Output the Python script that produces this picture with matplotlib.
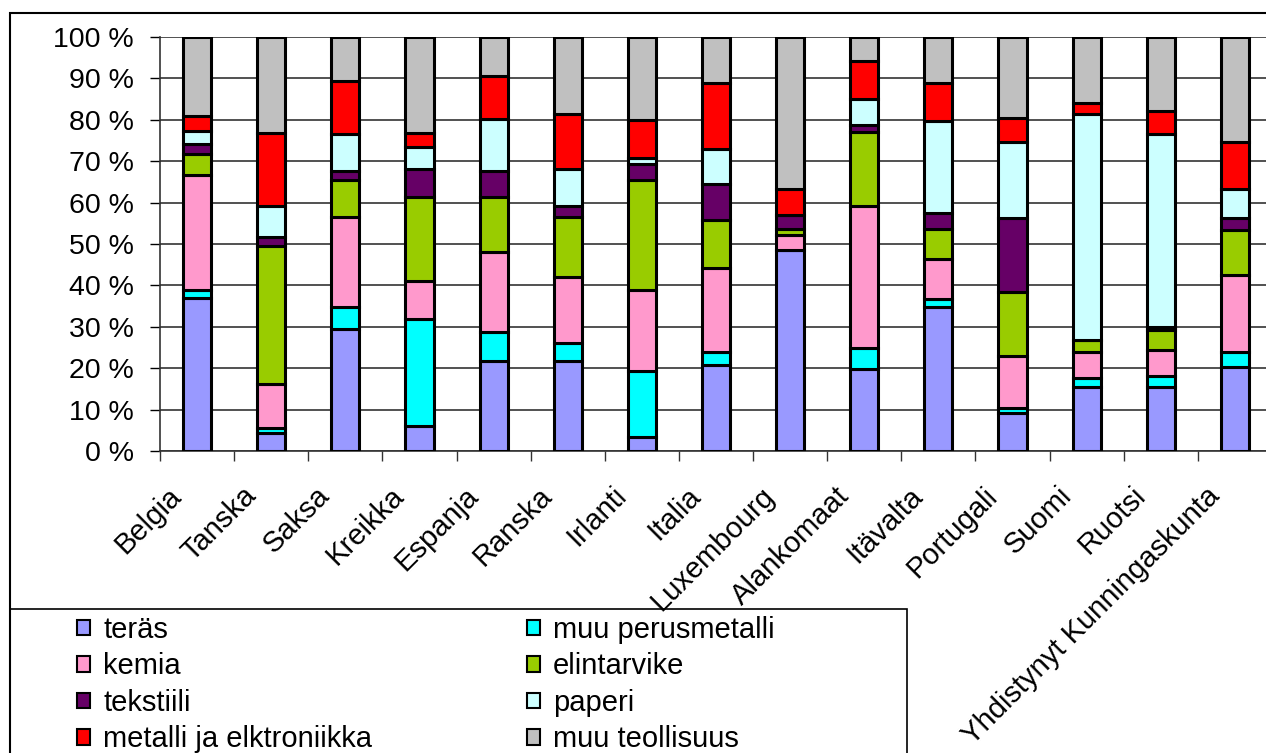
import matplotlib.pyplot as plt
import numpy as np
from matplotlib.patches import Rectangle
from matplotlib.transforms import ScaledTranslation

plt.rcParams['font.family'] = ['Liberation Sans', 'DejaVu Sans']

countries = ['Belgia', 'Tanska', 'Saksa', 'Kreikka', 'Espanja', 'Ranska', 'Irlanti',
             'Italia', 'Luxembourg', 'Alankomaat', 'Itävalta', 'Portugali', 'Suomi',
             'Ruotsi', 'Yhdistynyt Kunningaskunta']

# shares in percent
teras    = [36.8, 4.4, 29.4, 6.0, 21.8, 21.8, 3.3, 20.8, 48.6, 19.7, 34.7, 9.1, 15.5, 15.5, 20.4]
muuper   = [2.1, 1.1, 5.3, 26.0, 7.0, 4.4, 16.0, 3.2, 0.0, 5.3, 2.1, 1.2, 2.2, 2.7, 3.6]
kemia    = [27.7, 10.6, 21.9, 9.1, 19.2, 15.9, 19.6, 20.3, 3.6, 34.2, 9.5, 12.6, 6.3, 6.2, 18.5]
elint    = [4.9, 33.5, 8.9, 20.2, 13.3, 14.4, 26.6, 11.5, 1.5, 17.9, 7.3, 15.4, 2.8, 4.8, 11.1]
tekst    = [2.4, 2.2, 2.1, 6.8, 6.4, 2.7, 3.8, 8.6, 3.3, 1.6, 4.0, 18.1, 0.0, 0.8, 2.8]
paperi   = [3.2, 7.4, 9.0, 5.4, 12.5, 8.9, 1.5, 8.5, 0.0, 6.4, 22.2, 18.2, 54.5, 46.6, 7.1]
metalli  = [3.7, 17.5, 12.8, 3.2, 10.4, 13.3, 9.2, 16.1, 6.4, 9.2, 9.2, 5.8, 2.7, 5.5, 11.3]
muu      = [19.0, 23.3, 10.6, 23.3, 9.4, 18.6, 20.0, 11.0, 36.6, 5.7, 11.0, 19.6, 16.0, 17.9, 25.4]

series = [teras, muuper, kemia, elint, tekst, paperi, metalli, muu]
labels = ['teräs', 'muu perusmetalli', 'kemia', 'elintarvike', 'tekstiili', 'paperi',
          'metalli ja elktroniikka', 'muu teollisuus']
colors = ['#9999FF', '#00FFFF', '#FF99CC', '#99CC00', '#660066', '#CCFFFF', '#FF0000', '#C0C0C0']

W, H = 1266, 753
fig = plt.figure(figsize=(W/100, H/100), dpi=100)
ax = fig.add_axes([160/W, 1-451/H, 1112/W, 414/H])

x = np.arange(len(countries))
data = np.array(series)
# normalise every column to 100 %
data = data/data.sum(axis=0)*100
bottom = np.zeros(len(countries))
handles = []
for vals, lab, col in zip(data, labels, colors):
    b = ax.bar(x, vals, 0.38, bottom=bottom, color=col, edgecolor='black', linewidth=2.2, label=lab, zorder=3)
    handles.append(b)
    bottom += vals

ax.set_xlim(-0.5, len(countries)-0.5)
ax.set_ylim(0, 100)
ax.set_yticks(np.arange(0, 101, 10))
ax.set_yticklabels(['%d %%' % v for v in range(0, 101, 10)], fontsize=20.5)
ax.yaxis.grid(True, color='#333333', linewidth=1.2, zorder=0)

# category labels, rotated, ending just left of each bar
ax.set_xticks(np.arange(-0.5, len(countries), 1))
ax.set_xticklabels([])
lab_tr = ax.get_xaxis_transform() + ScaledTranslation(-14/100, -46/100, fig.dpi_scale_trans)
for i, name in enumerate(countries):
    ax.text(i, 0, name, transform=lab_tr, rotation=45, ha='right', va='baseline',
            rotation_mode='anchor', fontsize=21)
ax.tick_params(axis='x', length=7, width=1, color='#333333')
ax.tick_params(axis='y', length=7, width=1, pad=12)
for s in ['top', 'right']:
    ax.spines[s].set_visible(False)
ax.spines['left'].set_color('#333333')
ax.spines['bottom'].set_color('#333333')
ax.spines['left'].set_linewidth(1.2)
ax.spines['bottom'].set_linewidth(1.2)

# outer chart border
fig.patches.append(Rectangle((10/W, -0.01), 1.0, 1-13/H+0.01, transform=fig.transFigure,
                             fill=False, edgecolor='black', linewidth=1.5, zorder=0))
# legend box
fig.patches.append(Rectangle((10/W, -0.01), 897/W, 1-609/H+0.01, transform=fig.transFigure,
                             fill=False, edgecolor='black', linewidth=1.2, zorder=0))

order = [0, 2, 4, 6, 1, 3, 5, 7]
leg = fig.legend(handles=[handles[i] for i in order], labels=[labels[i] for i in order], ncol=2,
                 loc='upper left', bbox_to_anchor=(77/W, 1-616/H),
                 fontsize=21, frameon=False,
                 handlelength=0.45, handleheight=0.45, handletextpad=0.45,
                 columnspacing=5.3, labelspacing=0.29, borderpad=0, borderaxespad=0)
for h in leg.legend_handles:
    h.set_linewidth(1.5)

fig.savefig('out.png', dpi=100)
